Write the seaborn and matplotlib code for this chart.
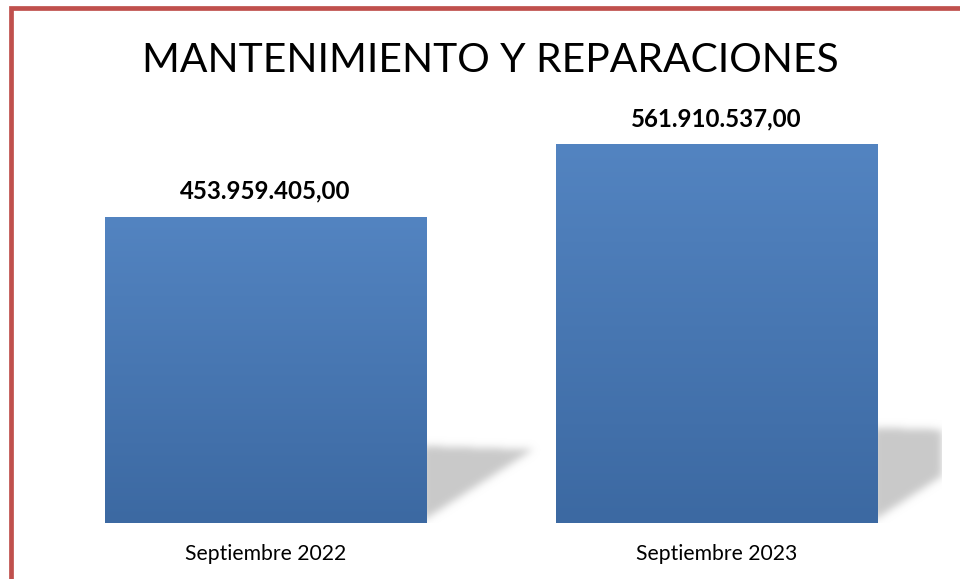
import numpy as np
import pandas as pd
import matplotlib
matplotlib.use("Agg")
import matplotlib.pyplot as plt
import seaborn as sns
from matplotlib.path import Path
from matplotlib.patches import Rectangle
from matplotlib.colors import LinearSegmentedColormap

categories = ["Septiembre 2022", "Septiembre 2023"]
values = [453959405.00, 561910537.00]
labels = ["453.959.405,00", "561.910.537,00"]
title = "MANTENIMIENTO Y REPARACIONES"

sns.set_theme(style="white")
plt.rcParams['font.family'] = ['Lato', 'DejaVu Sans']

W, H = 960, 579
fig = plt.figure(figsize=(W / 100, H / 100), dpi=100)
ax_l, ax_r, ax_b, ax_t = 40, 942, 523, 51
ax = fig.add_axes([ax_l / W, 1 - ax_b / H, (ax_r - ax_l) / W, (ax_b - ax_t) / H])

df = pd.DataFrame({"cat": categories, "val": values})
sns.barplot(data=df, x="cat", y="val", ax=ax, width=0.712, color="#4F81BD", zorder=3)
ymax = (ax_b - ax_t) / 0.6745 * 1e6
ax.set_xlim(-0.5, 1.5)
ax.set_ylim(0, ymax)

# gradient fill
grad_cmap = LinearSegmentedColormap.from_list("g", ["#3C69A2", "#5384C1"])
grad = np.linspace(0, 1, 256).reshape(-1, 1)
for p in ax.patches:
    x0, y0 = p.get_x(), p.get_y()
    w, h = p.get_width(), p.get_height()
    im = ax.imshow(grad, cmap=grad_cmap, aspect="auto", origin="lower",
                   extent=(x0, x0 + w, y0, y0 + h), zorder=3)
    im.set_clip_path(p)
    p.set_facecolor("none")
    p.set_edgecolor("none")

# shadows (blurred)
nx, ny = ax_r - ax_l, ax_b - ax_t
px = np.arange(nx) + 0.5
py = np.arange(ny) + 0.5
XX, YY = np.meshgrid(-0.5 + px / 451.0, py / ny * ymax)
pts = np.column_stack([XX.ravel(), YY.ravel()])
mask = np.zeros(XX.shape)
for p in ax.patches:
    right = p.get_x() + p.get_width()
    v = p.get_height()
    dx = v * (0.237 / 453.96e6)
    poly = Path([(right - 0.01, 0.005 * v), (right - 0.01, 0.252 * v),
                 (right + dx, 0.24 * v), (right - 0.01, 0.005 * v)])
    mask = np.maximum(mask, poly.contains_points(pts).reshape(XX.shape).astype(float))
sig = 4.0
k = np.arange(-12, 13)
kern = np.exp(-k ** 2 / (2 * sig ** 2))
kern /= kern.sum()
mask = np.apply_along_axis(lambda r: np.convolve(r, kern, mode="same"), 1, mask)
mask = np.apply_along_axis(lambda c: np.convolve(c, kern, mode="same"), 0, mask)
rgba = np.zeros(mask.shape + (4,))
rgba[..., :3] = 0.79
rgba[..., 3] = np.clip(mask, 0, 1)
ax.imshow(rgba, origin="lower", aspect="auto", extent=(-0.5, 1.5, 0, ymax), zorder=2)

# labels
for i, p in enumerate(ax.patches):
    ax.annotate(labels[i], (p.get_x() + p.get_width() / 2, p.get_height()),
                xytext=(0, 10), textcoords="offset points", ha="center", va="bottom",
                fontsize=17.3, fontweight="bold", color="black")

ax.set_xlabel("")
ax.set_ylabel("")
ax.set_yticks([])
ax.tick_params(axis="x", length=0, labelsize=15.2, labelcolor="black", pad=15)
for s in ax.spines.values():
    s.set_visible(False)

fig.text(490 / W, 1 - 60 / H, title, ha="center", va="center", fontsize=29.3, color="black")

# border
fig.patches.append(Rectangle((11 / W, -0.1), 1.2, 1 - 7.5 / H + 0.1, transform=fig.transFigure,
                             fill=False, edgecolor="#C0504D", linewidth=3.4, zorder=10))

fig.savefig("out.png", dpi=100)
